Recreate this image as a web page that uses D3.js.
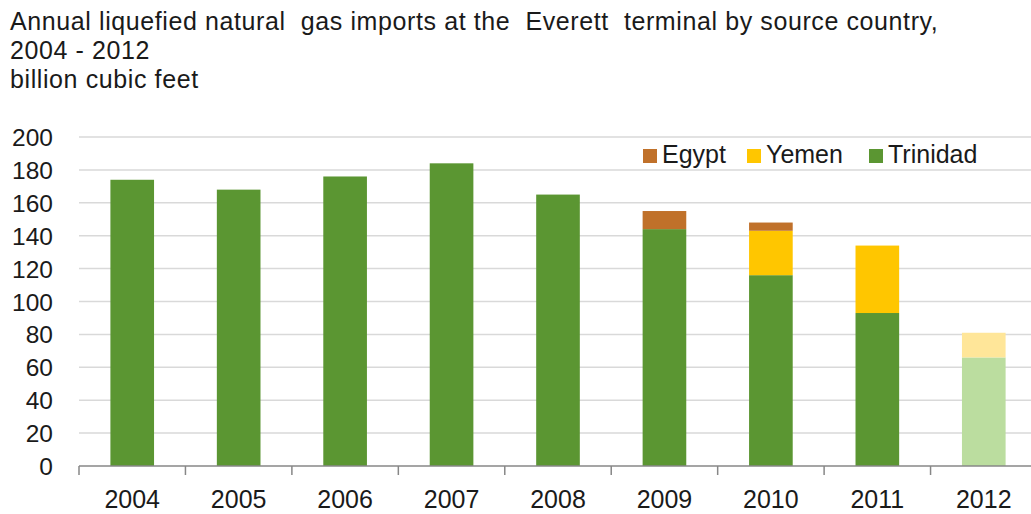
<!DOCTYPE html>
<html>
<head>
<meta charset="utf-8">
<script src="https://cdn.jsdelivr.net/npm/d3@7"></script>
<style>
  body { margin: 0; background: #fff; }
  svg { display: block; font-family: "Liberation Sans", Arial, sans-serif; }
</style>
</head>
<body>
<div id="chart"></div>
<script>
// values, billion cubic feet
var years = ["2004", "2005", "2006", "2007", "2008", "2009", "2010", "2011", "2012"];
var trinidad = [174, 168, 176, 184, 165, 144, 116, 93, 66];
var yemen    = [0, 0, 0, 0, 0, 0, 27, 41, 15];
var egypt    = [0, 0, 0, 0, 0, 11, 5, 0, 0];
var yTicks = [0, 20, 40, 60, 80, 100, 120, 140, 160, 180, 200];
var seriesNames = ["Trinidad", "Yemen", "Egypt"];
var titleLines = [
  "Annual liquefied natural  gas imports at the  Everett  terminal by source country,",
  "2004 - 2012",
  "billion cubic feet"
];

var colors = { Trinidad: "#5b9632", Yemen: "#ffc600", Egypt: "#c0712a" };
var lightColors = { Trinidad: "#bbdd9f", Yemen: "#ffe699", Egypt: "#e0b894" };

var rows = years.map(function(y, i) {
  return { year: y, Trinidad: trinidad[i], Yemen: yemen[i], Egypt: egypt[i] };
});

var W = 1031, H = 514;
var svg = d3.select("#chart").append("svg")
    .attr("width", W)
    .attr("height", H);

var x0 = 79, x1 = 1037;
var x = d3.scaleBand().domain(years).range([x0, x1]).paddingInner(0.59).paddingOuter(0.295);
var y = d3.scaleLinear().domain([0, 200]).range([466, 137]);

// title
svg.append("g").selectAll("text")
  .data(titleLines)
  .enter().append("text")
    .attr("x", 10)
    .attr("y", function(d, i) { return 30 + i * 29; })
    .attr("font-size", 25)
    .attr("letter-spacing", 0.6)
    .attr("fill", "#1a1a1a")
    .style("white-space", "pre")
    .text(function(d) { return d; });

// gridlines
svg.append("g").selectAll("line")
  .data(yTicks.slice(1))
  .enter().append("line")
    .attr("x1", x0).attr("x2", W)
    .attr("y1", function(d) { return y(d); })
    .attr("y2", function(d) { return y(d); })
    .attr("stroke", "#d9d9d9")
    .attr("stroke-width", 1.5);

// y labels
svg.append("g").selectAll("text")
  .data(yTicks)
  .enter().append("text")
    .attr("x", 53)
    .attr("y", function(d) { return y(d) + 9; })
    .attr("text-anchor", "end")
    .attr("font-size", 24.5)
    .attr("fill", "#1a1a1a")
    .text(function(d) { return d; });

// stacked bars
var stack = d3.stack().keys(seriesNames)(rows);
svg.append("g").selectAll("g")
  .data(stack)
  .enter().append("g")
  .selectAll("rect")
  .data(function(s) { return s.map(function(p) { return { key: s.key, p: p }; }); })
  .enter().append("rect")
    .filter(function(d) { return d.p[1] - d.p[0] > 0; })
    .attr("x", function(d) { return x(d.p.data.year); })
    .attr("width", x.bandwidth())
    .attr("y", function(d) { return y(d.p[1]); })
    .attr("height", function(d) { return y(d.p[0]) - y(d.p[1]); })
    .attr("fill", function(d) {
      return d.p.data.year === "2012" ? lightColors[d.key] : colors[d.key];
    });

// x axis
var gx = svg.append("g").attr("transform", "translate(0,466)");
gx.append("line")
  .attr("x1", x0).attr("x2", W)
  .attr("y1", 0).attr("y2", 0)
  .attr("stroke", "#878787").attr("stroke-width", 1.5);
gx.selectAll("line.tick")
  .data(years)
  .enter().append("line")
    .attr("class", "tick")
    .attr("x1", function(d) { return x(d) - x.step() * x.paddingInner() / 2; })
    .attr("x2", function(d) { return x(d) - x.step() * x.paddingInner() / 2; })
    .attr("y1", 0).attr("y2", 9)
    .attr("stroke", "#878787").attr("stroke-width", 1.5);
gx.selectAll("text.lab")
  .data(years)
  .enter().append("text")
    .attr("class", "lab")
    .attr("x", function(d) { return x(d) + x.bandwidth() / 2; })
    .attr("y", 42)
    .attr("text-anchor", "middle")
    .attr("font-size", 25)
    .attr("fill", "#1a1a1a")
    .text(function(d) { return d; });

// legend
var legendItems = [
  { name: "Egypt", x: 643 },
  { name: "Yemen", x: 747 },
  { name: "Trinidad", x: 869 }
];
var lg = svg.append("g").selectAll("g")
  .data(legendItems)
  .enter().append("g")
    .attr("transform", function(d) { return "translate(" + d.x + ",149)"; });
lg.append("rect")
  .attr("width", 14).attr("height", 14)
  .attr("fill", function(d) { return colors[d.name]; });
lg.append("text")
  .attr("x", 19).attr("y", 14)
  .attr("font-size", 25)
  .attr("fill", "#1a1a1a")
  .text(function(d) { return d.name; });
</script>
</body>
</html>
